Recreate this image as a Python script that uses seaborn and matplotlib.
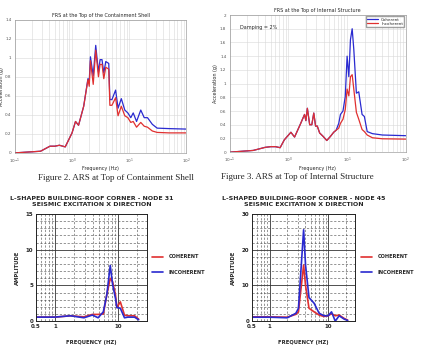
import numpy as np
import pandas as pd
import seaborn as sns
import matplotlib.pyplot as plt
from matplotlib.ticker import LogLocator, FixedLocator, NullFormatter

sns.set_style("white")
plt.rcParams['font.family'] = ['DejaVu Sans']

BLUE = '#2a2ad0'
RED = '#e03030'

# Figure 2 - ARS at top of containment shell
fig2_freq = [0.1, 0.28, 0.41, 0.5, 0.6, 0.76, 1.0, 1.15, 1.3, 1.6, 1.9, 2.0, 2.1, 2.35,
             2.6, 2.9, 3.1, 3.35, 3.6, 3.9, 4.4, 4.6, 5.0, 5.8, 6.4, 7.3, 8.4, 9.5,
             10.7, 11.8, 13.5, 16, 18.4, 21, 25.5, 31, 50, 100]
fig2_coh = [0.0, 0.017, 0.07, 0.07, 0.08, 0.063, 0.21, 0.33, 0.29, 0.49, 0.78, 0.75, 1.01, 0.81,
            1.13, 0.85, 0.98, 0.98, 0.84, 0.96, 0.94, 0.56, 0.56, 0.66, 0.47, 0.57, 0.45, 0.42,
            0.37, 0.42, 0.33, 0.45, 0.37, 0.37, 0.30, 0.26, 0.255, 0.25]
fig2_inc = [0.0, 0.017, 0.07, 0.07, 0.08, 0.063, 0.21, 0.33, 0.29, 0.49, 0.77, 0.70, 0.97, 0.72,
            1.08, 0.80, 0.93, 0.93, 0.78, 0.90, 0.88, 0.50, 0.50, 0.58, 0.39, 0.49, 0.39, 0.37,
            0.32, 0.33, 0.27, 0.32, 0.28, 0.27, 0.23, 0.215, 0.21, 0.21]

# Figure 3 - ARS at top of internal structure
fig3_freq = [0.1, 0.25, 0.4, 0.5, 0.6, 0.72, 0.85, 1.1, 1.27, 1.58, 1.88, 1.98, 2.1, 2.3,
             2.5, 2.7, 2.9, 3.1, 3.4, 3.9, 4.5, 5.2, 5.9, 6.5, 7.2, 7.7, 8.5, 9.3, 10.0,
             10.7, 11.4, 12.2, 13.0, 14.4, 15.8, 18.0, 19.7, 22.0, 27.0, 40, 100]
fig3_coh = [0.0, 0.025, 0.07, 0.08, 0.08, 0.065, 0.18, 0.29, 0.22, 0.40, 0.55, 0.46, 0.64, 0.40,
            0.40, 0.57, 0.38, 0.38, 0.28, 0.23, 0.17, 0.23, 0.29, 0.32, 0.42, 0.55, 0.60, 0.81, 1.40,
            1.10, 1.64, 1.80, 1.50, 0.86, 0.88, 0.55, 0.52, 0.30, 0.27, 0.25, 0.24]
fig3_inc = [0.0, 0.025, 0.07, 0.08, 0.08, 0.065, 0.18, 0.29, 0.22, 0.40, 0.55, 0.46, 0.64, 0.40,
            0.40, 0.57, 0.38, 0.38, 0.28, 0.23, 0.17, 0.23, 0.29, 0.32, 0.35, 0.42, 0.48, 0.62, 0.92,
            0.82, 1.10, 1.13, 0.92, 0.58, 0.48, 0.33, 0.30, 0.25, 0.21, 0.195, 0.19]

# Node 31
n31_freq = [0.5, 1.0, 1.77, 2.9, 3.95, 4.87, 5.9, 6.7, 7.6, 8.3, 9.2, 9.7, 11.0, 12.8, 14.5, 18.5, 21.5]
n31_coh = [0.56, 0.56, 0.75, 0.6, 0.94, 0.94, 1.0, 3.7, 6.0, 5.5, 3.7, 1.9, 2.7, 0.85, 0.75, 0.75, 0.28]
n31_inc = [0.56, 0.56, 0.75, 0.47, 0.85, 0.47, 1.3, 3.7, 7.8, 5.1, 3.2, 1.9, 1.8, 0.47, 0.56, 0.56, 0.19]

# Node 45
n45_freq = [0.5, 1.0, 2.0, 2.8, 3.1, 3.8, 4.1, 4.7, 5.75, 7.0, 8.5, 10.0, 11.4, 13.2, 15.4, 18.8, 21.5]
n45_coh = [1.2, 1.2, 1.1, 1.9, 2.6, 15.7, 10.0, 3.6, 2.6, 1.7, 1.3, 1.5, 2.1, 1.5, 1.7, 0.75, 0.3]
n45_inc = [1.1, 1.1, 0.94, 2.2, 3.6, 25.6, 15.7, 6.6, 5.0, 2.2, 1.5, 1.5, 2.6, 0.0, 1.5, 0.56, 0.2]


def ars_panel(ax, freq, coh, inc, title, ymax, legend=False):
    df = pd.DataFrame({'f': freq, 'Coherent': coh, 'Incoherent': inc})
    sns.lineplot(data=df, x='f', y='Coherent', ax=ax, color=BLUE, lw=0.9,
                 label='Coherent' if legend else None)
    sns.lineplot(data=df, x='f', y='Incoherent', ax=ax, color=RED, lw=0.9,
                 label='Incoherent' if legend else None)
    ax.set_xscale('log')
    ax.set_xlim(0.1, 100)
    ax.set_ylim(0, ymax)
    yt = np.arange(0, ymax + 0.01, 0.2)
    ax.set_yticks(yt)
    ax.set_yticklabels(['%g' % round(v, 1) for v in yt])
    ax.xaxis.set_minor_locator(LogLocator(base=10, subs=np.arange(2, 10)))
    ax.xaxis.set_minor_formatter(NullFormatter())
    ax.grid(True, which='both', axis='x', color='#d8d8d8', lw=0.4)
    ax.grid(True, which='major', axis='y', color='#d8d8d8', lw=0.4)
    ax.tick_params(labelsize=3, colors='#555555', length=1.5, width=0.3, pad=1)
    ax.tick_params(which='minor', length=1, width=0.3)
    for s in ax.spines.values():
        s.set_linewidth(0.4)
        s.set_color('#888888')
    ax.set_title(title, fontsize=3.5, pad=2)
    ax.set_xlabel('Frequency (Hz)', fontsize=3.5, labelpad=0.5)
    ax.set_ylabel('Acceleration (g)', fontsize=3.5, labelpad=1)
    if legend:
        ax.legend(loc='upper right', fontsize=3, frameon=True, edgecolor='#888888',
                  fancybox=False, handlelength=2.5, borderpad=0.3, labelspacing=0.1,
                  borderaxespad=0.3)


def node_panel(ax, freq, coh, inc, title, ymax, ystep, minor_step):
    df = pd.DataFrame({'f': freq, 'coh': coh, 'inc': inc})
    sns.lineplot(data=df, x='f', y='coh', ax=ax, color=RED, lw=1.2)
    sns.lineplot(data=df, x='f', y='inc', ax=ax, color=BLUE, lw=1.2)
    ax.set_xscale('log')
    ax.set_xlim(0.5, 29)
    ax.set_ylim(0, ymax)
    ax.xaxis.set_major_locator(FixedLocator([0.5, 1, 10]))
    ax.set_xticklabels(['0.5', '1', '10'])
    ax.xaxis.set_minor_locator(FixedLocator([0.6, 0.7, 0.8, 0.9, 2, 3, 4, 5, 6, 7, 8, 9, 20]))
    ax.xaxis.set_minor_formatter(NullFormatter())
    ax.set_yticks(np.arange(0, ymax + 1, ystep))
    ax.yaxis.set_minor_locator(FixedLocator(np.arange(0, ymax, minor_step)))
    for v in [1, 10]:
        ax.axvline(v, color='#333333', lw=0.6, zorder=0)
    for v in np.arange(ystep, ymax, ystep):
        ax.axhline(v, color='#333333', lw=0.6, zorder=0)
    ax.grid(True, which='minor', color='#444444', lw=0.4, ls=(0, (4, 3)), zorder=0)
    ax.tick_params(labelsize=4, length=0, pad=2)
    for lab in ax.get_xticklabels() + ax.get_yticklabels():
        lab.set_fontweight('bold')
    for s in ax.spines.values():
        s.set_linewidth(0.7)
        s.set_color('#222222')
    ax.set_title(title, fontsize=4.5, fontweight='bold', pad=6, linespacing=1.25)
    ax.set_xlabel('FREQUENCY (HZ)', fontsize=3.8, fontweight='bold', labelpad=8)
    ax.set_ylabel('AMPLITUDE', fontsize=3.8, fontweight='bold', labelpad=4)


fig = plt.figure(figsize=(4.28, 3.58), dpi=100)

ax1 = fig.add_axes([0.035, 0.573, 0.40, 0.372])
ars_panel(ax1, fig2_freq, fig2_coh, fig2_inc, 'FRS at the Top of the Containment Shell', 1.4)

ax2 = fig.add_axes([0.537, 0.575, 0.411, 0.383])
ars_panel(ax2, fig3_freq, fig3_coh, fig3_inc, 'FRS at the Top of Internal Structure', 2.0, legend=True)
ax2.text(0.06, 0.93, 'Damping = 2%', transform=ax2.transAxes, fontsize=3.5, va='top')

fig.text(116 / 428, 1 - 178 / 358, 'Figure 2. ARS at Top of Containment Shell',
         family='Liberation Serif', fontsize=6.5, ha='center', va='center')
fig.text(297 / 428, 1 - 177 / 358, 'Figure 3. ARS at Top of Internal Structure',
         family='Liberation Serif', fontsize=6.5, ha='center', va='center')

ax3 = fig.add_axes([0.084, 0.103, 0.259, 0.299])
node_panel(ax3, n31_freq, n31_coh, n31_inc,
           'L-SHAPED BUILDING-ROOF CORNER - NODE 31\nSEISMIC EXCITATION X DIRECTION', 15, 5, 1)

ax4 = fig.add_axes([0.589, 0.103, 0.241, 0.299])
node_panel(ax4, n45_freq, n45_coh, n45_inc,
           'L-SHAPED BUILDING-ROOF CORNER - NODE 45\nSEISMIC EXCITATION X DIRECTION', 30, 10, 2)

# legends to the right of the lower panels
for x0 in [152 / 428, 361 / 428]:
    for y0, col, lab in [(257, RED, 'COHERENT'), (272, BLUE, 'INCOHERENT')]:
        yf = 1 - y0 / 358
        fig.add_artist(plt.Line2D([x0, x0 + 11 / 428], [yf, yf], color=col, lw=1.2))
        fig.text(x0 + 17 / 428, yf, lab, fontsize=3.6, fontweight='bold', va='center')

fig.savefig('out.png', dpi=100)
